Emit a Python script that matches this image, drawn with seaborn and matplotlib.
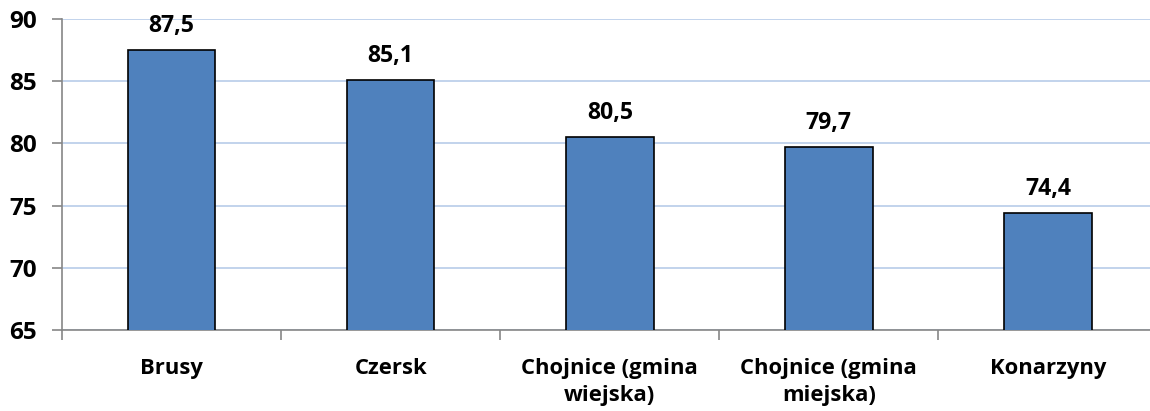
import matplotlib
matplotlib.use("Agg")
import matplotlib.pyplot as plt
import seaborn as sns
import numpy as np
import pandas as pd

categories = ["Brusy", "Czersk", "Chojnice (gmina\nwiejska)", "Chojnice (gmina\nmiejska)", "Konarzyny"]
values = [87.5, 85.1, 80.5, 79.7, 74.4]
value_labels = ["87,5", "85,1", "80,5", "79,7", "74,4"]
y_ticks = [65, 70, 75, 80, 85, 90]

sns.set_style("white")
plt.rcParams['font.family'] = ['Open Sans', 'DejaVu Sans']
plt.rcParams['font.weight'] = 'bold'
plt.rcParams['text.color'] = 'black'
plt.rcParams['xtick.color'] = 'black'
plt.rcParams['ytick.color'] = 'black'

df = pd.DataFrame({"cat": categories, "val": values})

fig = plt.figure(figsize=(11.5, 4.11), dpi=100)
left_px, right_px = 62, 1150
ax = fig.add_axes([left_px/1150, 1-330/411, (right_px-left_px)/1150, (330-19)/411])

sns.barplot(data=df, x="cat", y="val", ax=ax, color="#4F81BD", saturation=1,
            width=0.40, edgecolor="black", linewidth=1.2, zorder=3)

ax.set_ylim(65, 90)
cat_px = 219.1
ax.set_xlim(-0.5, -0.5 + (right_px - left_px) / cat_px)
ax.set_yticks(y_ticks)
ax.yaxis.grid(True, color="#BDD0EA", linewidth=1.3, zorder=0)
ax.set_axisbelow(True)

FS = 15.8
for i, (v, lab) in enumerate(zip(values, value_labels)):
    ax.annotate(lab, xy=(i, v), xytext=(0, 13), textcoords="offset points",
                ha="center", va="baseline", fontsize=16.6, fontweight="bold", color="black")

ax.set_xlabel("")
ax.set_ylabel("")
ax.tick_params(axis="both", which="both", bottom=True, left=True)
ax.tick_params(axis="x", which="major", length=0, pad=20, labelsize=FS, labelcolor="black")
ax.set_xticks(np.arange(-0.5, len(categories) - 0.5, 1), minor=True)
ax.tick_params(axis="x", which="minor", length=7, color="#868686", width=1.2)
ax.tick_params(axis="y", length=7, color="#868686", width=1.2, labelsize=17.5, pad=11, labelcolor="black")
for lbl in ax.get_xticklabels():
    lbl.set_fontweight("bold")
    lbl.set_multialignment("center")
    lbl.set_linespacing(1.4)
for lbl in ax.get_yticklabels():
    lbl.set_fontweight("bold")

for s in ["top", "right"]:
    ax.spines[s].set_visible(False)
for s in ["left", "bottom"]:
    ax.spines[s].set_color("#868686")
    ax.spines[s].set_linewidth(1.2)

fig.savefig("out.png", dpi=100)
